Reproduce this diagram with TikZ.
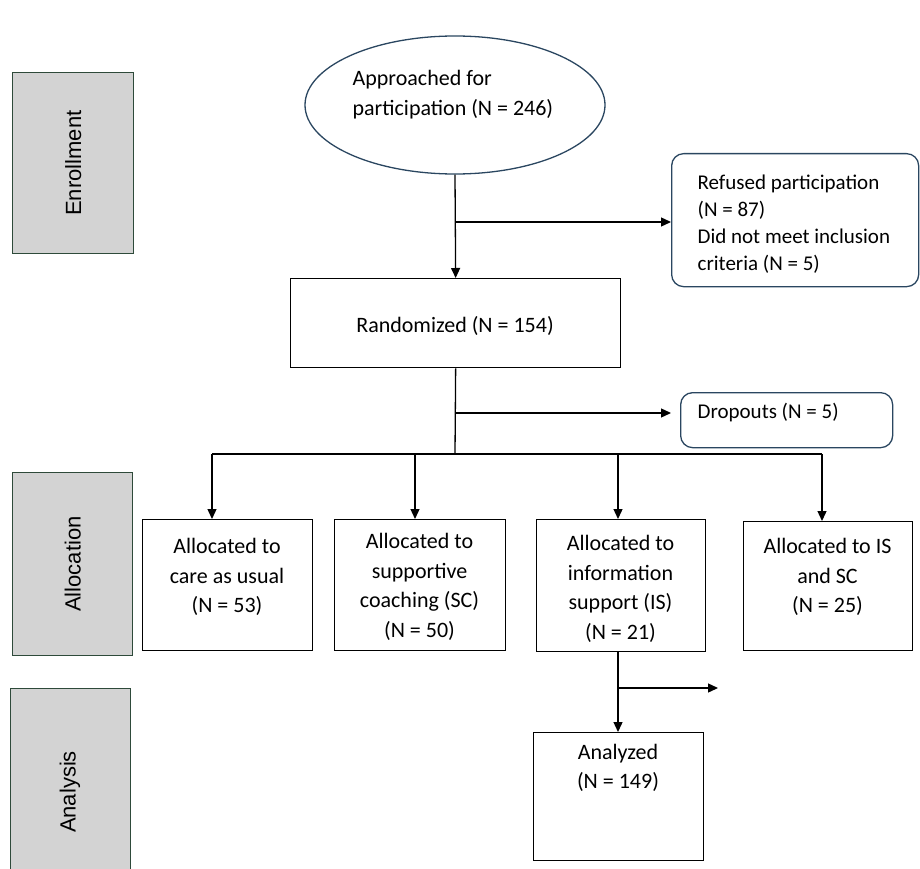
\documentclass[tikz,border=0pt]{standalone}
\usepackage{fontspec}
\setmainfont{Carlito}
\newfontfamily\arialf{Liberation Sans}
\usetikzlibrary{arrows.meta,shapes.geometric}
\definecolor{secfill}{HTML}{D3D3D3}
\definecolor{secdraw}{HTML}{2E4A3A}
\definecolor{blueline}{HTML}{2A4660}
\begin{document}
\begin{tikzpicture}[x=1pt,y=-1pt,
  line width=1.3pt,
  box/.style={draw=black, rectangle, inner sep=0pt, anchor=north west},
  rbox/.style={draw=blueline, rectangle, rounded corners=12pt, inner sep=0pt, anchor=north west},
  secbox/.style={draw=secdraw, fill=secfill, rectangle, inner sep=0pt, anchor=north west},
  sectxt/.style={font=\arialf\fontsize{22}{26}\selectfont, rotate=90, inner sep=0pt},
  txt/.style={font=\fontsize{22}{29.5}\selectfont, align=center, inner sep=0pt},
  ltxt/.style={font=\fontsize{21}{27}\selectfont, align=left, inner sep=0pt, anchor=north west},
  arr/.style={-{Triangle[length=10pt,width=9pt]}},
  ln/.style={-}
]
\useasboundingbox (0,0) rectangle (920,869);
\clip (0,0) rectangle (920,869);

% section boxes
\node[secbox, minimum width=121pt, minimum height=181pt] (enr) at (12,72) {};
\node[sectxt] (enrt) at (enr.center) {Enrollment};
\node[secbox, minimum width=120pt, minimum height=183pt] (alc) at (12,472) {};
\node[sectxt] (alct) at (alc.center) {Allocation};
\node[secbox, minimum width=120pt, minimum height=220pt] (ana) at (10,688) {};
\node[sectxt] (anat) at (70,792) {Analysis};

% ellipse
\node[draw=blueline, ellipse, minimum width=300pt, minimum height=138pt, inner sep=0pt] (app) at (455,105) {};
\node[ltxt, font=\fontsize{22}{30}\selectfont] (appt) at (352,70) {Approached for\\participation (N = 246)};

% refused
\node[rbox, minimum width=247pt, minimum height=133pt] (ref) at (671,153) {};
\node[ltxt] (reft) at (697,174) {Refused participation\\(N = 87)\\Did not meet inclusion\\criteria (N = 5)};

% randomized
\node[box, minimum width=330pt, minimum height=89pt] (rand) at (290,278) {};
\node[txt] (randt) at (455,326) {Randomized (N = 154)};

% dropouts
\node[rbox, minimum width=212pt, minimum height=55pt] (drop) at (680,392) {};
\node[ltxt, font=\fontsize{21}{27}\selectfont, anchor=west] (dropt) at (697,413) {Dropouts (N = 5)};

% allocation boxes
\node[box, minimum width=170pt, minimum height=131pt] (b1) at (142,519) {};
\node[txt] (b1t) at (227,577) {Allocated to\\care as usual\\(N = 53)};
\node[box, minimum width=171pt, minimum height=131pt] (b2) at (334,519) {};
\node[txt] (b2t) at (419.5,587) {Allocated to\\supportive\\coaching (SC)\\(N = 50)};
\node[box, minimum width=169pt, minimum height=132pt] (b3) at (536,519) {};
\node[txt] (b3t) at (620.5,589) {Allocated to\\information\\support (IS)\\(N = 21)};
\node[box, minimum width=169pt, minimum height=129pt] (b4) at (743,521) {};
\node[txt] (b4t) at (827.5,577) {Allocated to IS\\and SC\\(N = 25)};

% analyzed
\node[box, minimum width=170pt, minimum height=128pt] (anz) at (533,732) {};
\node[txt] (anzt) at (618,768) {Analyzed\\(N = 149)};

% connectors
\coordinate (j1) at (455,222);
\draw[arr] (app.south) -- (rand.north);
\draw[arr] (j1) -- (ref.west |- j1);

\coordinate (j2) at (455,454);
\coordinate (j3) at (455,413);
\draw[ln] (rand.south) -- (j2);
\draw[arr, shorten >=9pt] (j3) -- (drop.west |- j3);

\coordinate (h1) at (212,454);
\coordinate (h2) at (415,454);
\coordinate (h3) at (618,454);
\coordinate (h4) at (822,454);
\draw[ln] (h1) -- (h4);
\draw[arr] (h1) -- (h1 |- b1.north);
\draw[arr] (h2) -- (h2 |- b2.north);
\draw[arr] (h3) -- (h3 |- b3.north);
\draw[arr] (h4) -- (h4 |- b4.north);

\coordinate (v1) at (618,651);
\coordinate (j4) at (618,688);
\coordinate (e4) at (718,688);
\draw[arr] (v1) -- (v1 |- anz.north);
\draw[arr] (j4) -- (e4);
\end{tikzpicture}
\end{document}
